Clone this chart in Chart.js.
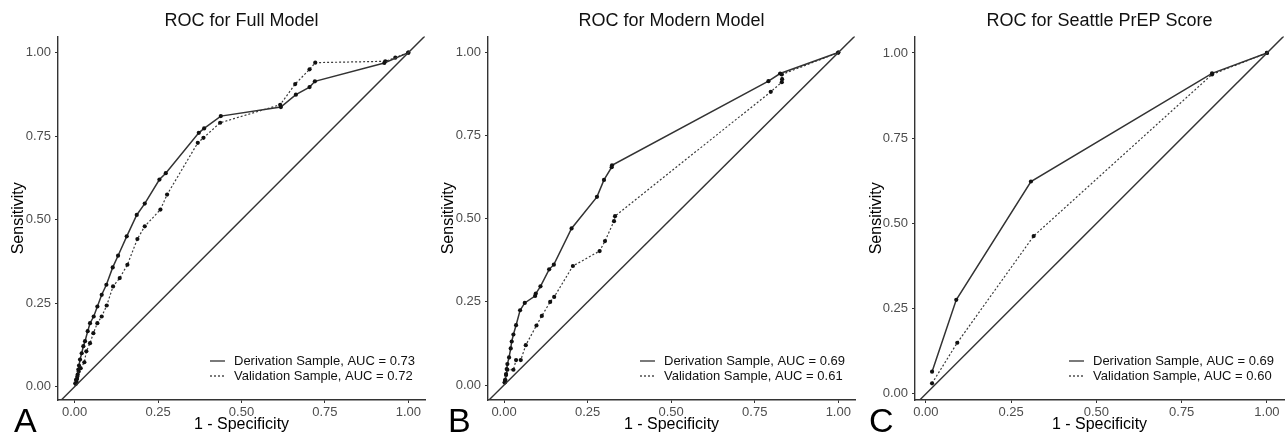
<!DOCTYPE html>
<html>
<head>
<meta charset="utf-8">
<script src="https://cdn.jsdelivr.net/npm/chart.js@4.4.1/dist/chart.umd.min.js"></script>
<style>
  html, body { margin: 0; padding: 0; background: #fff; }
  body { width: 1288px; height: 434px; position: relative; overflow: hidden; font-family: 'Liberation Sans', Arial, sans-serif; }
  .panel { position: absolute; top: 0; height: 434px; }
  .letter { position: absolute; top: 400px; font-size: 34px; line-height: 40px; color: #000; }
</style>
</head>
<body>
<div class="panel" style="left:0;width:430px"><canvas id="rocA"></canvas></div>
<div class="panel" style="left:430px;width:430px"><canvas id="rocB"></canvas></div>
<div class="panel" style="left:858px;width:430px"><canvas id="rocC"></canvas></div>
<div class="letter" style="left:14px">A</div>
<div class="letter" style="left:448px">B</div>
<div class="letter" style="left:869px">C</div>

<script>
/* ROC curves: derivation vs validation sample as [1 - specificity, sensitivity] */

const panelTitles = ['ROC for Full Model', 'ROC for Modern Model', 'ROC for Seattle PrEP Score'];
const derivationAuc = ['0.73', '0.69', '0.69'];
const validationAuc = ['0.72', '0.61', '0.60'];
const tickValues = [0, 0.25, 0.5, 0.75, 1];

const fullDerivation = [
  [0.003,0.008],[0.006,0.013],[0.007,0.023],[0.009,0.036],[0.011,0.051],[0.013,0.063],[0.016,0.081],
  [0.021,0.1],[0.026,0.121],[0.031,0.136],[0.039,0.166],[0.046,0.19],[0.057,0.21],[0.068,0.24],
  [0.081,0.275],[0.095,0.305],[0.114,0.357],[0.13,0.392],[0.156,0.45],[0.186,0.514],[0.21,0.548],
  [0.254,0.62],[0.273,0.639],[0.372,0.76],[0.388,0.773],[0.438,0.81],[0.618,0.837],[0.663,0.874],
  [0.704,0.897],[0.72,0.914],[0.928,0.969],[1,1]
];
const fullValidation = [
  [0.002,0.01],[0.004,0.02],[0.008,0.03],[0.012,0.045],[0.018,0.055],[0.029,0.073],[0.035,0.106],
  [0.046,0.13],[0.056,0.16],[0.068,0.19],[0.081,0.21],[0.096,0.243],[0.115,0.3],[0.135,0.325],
  [0.158,0.365],[0.188,0.442],[0.21,0.48],[0.257,0.53],[0.277,0.575],[0.369,0.73],[0.386,0.745],
  [0.436,0.79],[0.616,0.844],[0.661,0.906],[0.704,0.95],[0.721,0.97],[0.931,0.974],[0.961,0.985],[1,1]
];
const modernDerivation = [
  [0.002,0.008],[0.003,0.015],[0.006,0.033],[0.008,0.048],[0.01,0.063],[0.015,0.083],[0.02,0.11],
  [0.023,0.131],[0.028,0.152],[0.036,0.18],[0.048,0.225],[0.062,0.247],[0.093,0.268],[0.095,0.275],
  [0.109,0.297],[0.135,0.348],[0.149,0.362],[0.202,0.471],[0.278,0.566],[0.299,0.617],[0.322,0.655],
  [0.323,0.661],[0.791,0.914],[0.826,0.937],[1,1]
];
const modernValidation = [
  [0.002,0.008],[0.004,0.015],[0.006,0.03],[0.01,0.046],[0.028,0.046],[0.036,0.075],[0.05,0.075],
  [0.065,0.12],[0.097,0.179],[0.113,0.208],[0.138,0.25],[0.15,0.265],[0.206,0.358],[0.286,0.403],
  [0.302,0.433],[0.329,0.493],[0.332,0.508],[0.798,0.882],[0.831,0.911],[0.832,0.92],[0.831,0.934],[1,1]
];
const seattleDerivation = [[0.018,0.065],[0.089,0.276],[0.308,0.623],[0.839,0.94],[1,1]];
const seattleValidation = [[0.018,0.031],[0.092,0.15],[0.316,0.463],[0.839,0.937],[1,1]];

const FONT = "'Liberation Sans', Arial, sans-serif";
const INK = '#333333';

// legend drawn inside the panel, bottom right
const insideLegend = {
  id: 'insideLegend',
  afterDatasetsDraw(chart) {
    const { ctx, chartArea } = chart;
    const items = chart.data.datasets.filter(d => d.label);
    ctx.save();
    ctx.font = '13px ' + FONT;
    const textW = Math.max(...items.map(d => ctx.measureText(d.label).width));
    const x0 = chartArea.right - 10 - textW - 24;
    items.forEach((d, i) => {
      const y = chartArea.bottom - 39 + i * 15;
      ctx.strokeStyle = '#222';
      ctx.lineWidth = 1.2;
      ctx.setLineDash(d.borderDash || []);
      ctx.beginPath();
      ctx.moveTo(x0, y);
      ctx.lineTo(x0 + 15, y);
      ctx.stroke();
      ctx.setLineDash([]);
      ctx.fillStyle = '#111';
      ctx.textBaseline = 'middle';
      ctx.textAlign = 'left';
      ctx.fillText(d.label, x0 + 24, y);
    });
    ctx.restore();
  }
};

const toPoints = arr => arr.map(p => ({ x: p[0], y: p[1] }));

function createRocChart(canvasId, idx, derivation, validation, xMin, yMin, yAxisWidth, padRight) {
  const ctx = document.getElementById(canvasId);
  if (!ctx) return;
  new Chart(ctx, {
    type: 'scatter',
    data: {
      datasets: [
        {
          data: [{ x: -0.2, y: -0.2 }, { x: 1.2, y: 1.2 }],
          showLine: true, borderColor: INK, borderWidth: 1.4, pointRadius: 0, clip: 0
        },
        {
          label: 'Derivation Sample, AUC = ' + derivationAuc[idx],
          data: toPoints(derivation),
          showLine: true, borderColor: INK, borderWidth: 1.5,
          pointRadius: 2.1, pointBackgroundColor: '#111', pointBorderWidth: 0
        },
        {
          label: 'Validation Sample, AUC = ' + validationAuc[idx],
          data: toPoints(validation),
          showLine: true, borderColor: '#3a3a3a', borderWidth: 1.2, borderDash: [2, 2],
          pointRadius: 2.1, pointBackgroundColor: '#111', pointBorderWidth: 0
        }
      ]
    },
    options: {
      responsive: true,
      maintainAspectRatio: false,
      animation: false,
      events: [],
      layout: { padding: { left: 0, right: padRight, top: 0, bottom: 0 } },
      scales: {
        x: {
          type: 'linear', min: xMin, max: 1.05,
          afterBuildTicks: s => { s.ticks = tickValues.map(v => ({ value: v })); },
          afterFit: s => { s.height = 34; },
          ticks: { callback: v => v.toFixed(2), color: '#4d4d4d', font: { family: FONT, size: 13 }, padding: 2, maxRotation: 0 },
          grid: { drawOnChartArea: false, drawTicks: true, tickLength: 3, color: INK },
          border: { display: true, color: INK, width: 1.4 },
          title: { display: true, text: '1 - Specificity', color: '#000', font: { family: FONT, size: 16 }, padding: { top: 0, bottom: 0 } }
        },
        y: {
          type: 'linear', min: yMin, max: 1.048,
          afterBuildTicks: s => { s.ticks = tickValues.map(v => ({ value: v })); },
          afterFit: s => { s.width = yAxisWidth; },
          ticks: { callback: v => v.toFixed(2), color: '#4d4d4d', font: { family: FONT, size: 13 }, padding: 4 },
          grid: { drawOnChartArea: false, drawTicks: true, tickLength: 3, color: INK },
          border: { display: true, color: INK, width: 1.4 },
          title: { display: true, text: 'Sensitivity', color: '#000', font: { family: FONT, size: 16 }, padding: { top: 9, bottom: 0 } }
        }
      },
      plugins: {
        legend: { display: false },
        tooltip: { enabled: false },
        title: {
          display: true, text: panelTitles[idx], fullSize: false, color: '#111',
          font: { family: FONT, size: 18, weight: 'normal' }, padding: { top: 10, bottom: 5 }
        }
      }
    },
    plugins: [insideLegend]
  });
}

createRocChart('rocA', 0, fullDerivation, fullValidation, -0.05, -0.04, 58, 5);
createRocChart('rocB', 1, modernDerivation, modernValidation, -0.048, -0.045, 58, 5);
createRocChart('rocC', 2, seattleDerivation, seattleValidation, -0.032, -0.018, 57, 3);
</script>
</body>
</html>
